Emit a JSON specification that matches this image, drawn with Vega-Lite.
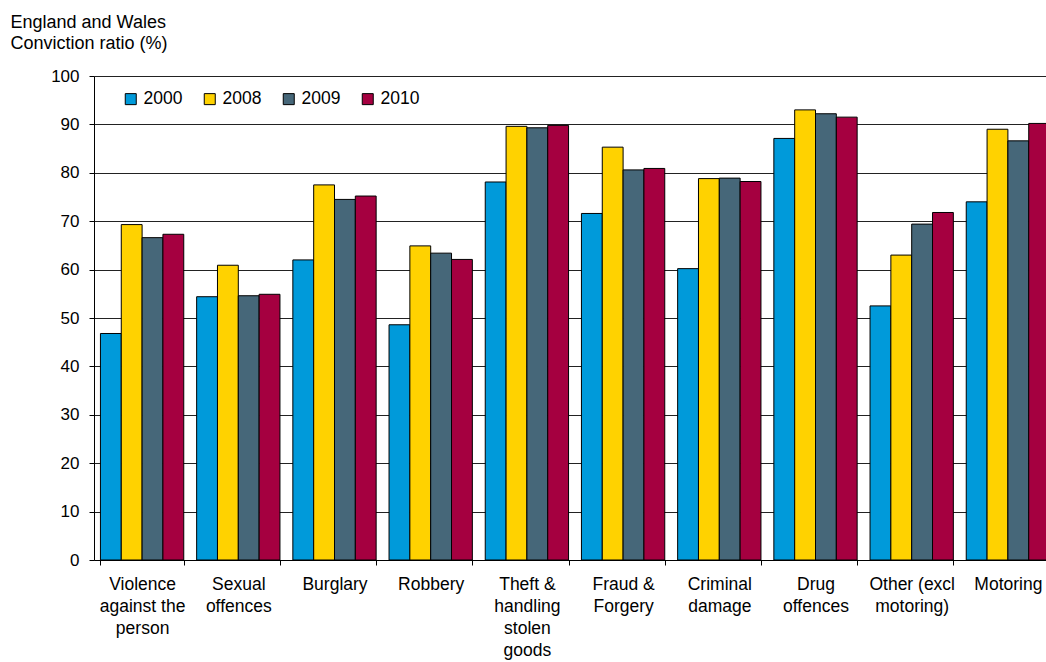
{
  "$schema": "https://vega.github.io/schema/vega-lite/v6.json",
  "autosize": "none",
  "width": 952,
  "height": 484,
  "padding": {"left": 94, "top": 76, "right": 0, "bottom": 102},
  "background": "white",
  "config": {
    "font": "Liberation Sans",
    "view": {"stroke": null},
    "axis": {"labelColor": "black", "titleColor": "black", "labelFontSize": 17, "domainColor": "black", "tickColor": "black"}
  },
  "data": {
    "values": [
      {"cat": "Violence|against the|person", "year": "2000", "v": 46.8},
      {"cat": "Violence|against the|person", "year": "2008", "v": 69.3},
      {"cat": "Violence|against the|person", "year": "2009", "v": 66.6},
      {"cat": "Violence|against the|person", "year": "2010", "v": 67.3},
      {"cat": "Sexual|offences", "year": "2000", "v": 54.4},
      {"cat": "Sexual|offences", "year": "2008", "v": 60.9},
      {"cat": "Sexual|offences", "year": "2009", "v": 54.6},
      {"cat": "Sexual|offences", "year": "2010", "v": 54.9},
      {"cat": "Burglary", "year": "2000", "v": 62.0},
      {"cat": "Burglary", "year": "2008", "v": 77.5},
      {"cat": "Burglary", "year": "2009", "v": 74.5},
      {"cat": "Burglary", "year": "2010", "v": 75.2},
      {"cat": "Robbery", "year": "2000", "v": 48.6},
      {"cat": "Robbery", "year": "2008", "v": 64.9},
      {"cat": "Robbery", "year": "2009", "v": 63.4},
      {"cat": "Robbery", "year": "2010", "v": 62.1},
      {"cat": "Theft &|handling|stolen|goods", "year": "2000", "v": 78.1},
      {"cat": "Theft &|handling|stolen|goods", "year": "2008", "v": 89.6},
      {"cat": "Theft &|handling|stolen|goods", "year": "2009", "v": 89.3},
      {"cat": "Theft &|handling|stolen|goods", "year": "2010", "v": 89.8},
      {"cat": "Fraud &|Forgery", "year": "2000", "v": 71.6},
      {"cat": "Fraud &|Forgery", "year": "2008", "v": 85.3},
      {"cat": "Fraud &|Forgery", "year": "2009", "v": 80.6},
      {"cat": "Fraud &|Forgery", "year": "2010", "v": 80.9},
      {"cat": "Criminal|damage", "year": "2000", "v": 60.2},
      {"cat": "Criminal|damage", "year": "2008", "v": 78.8},
      {"cat": "Criminal|damage", "year": "2009", "v": 78.9},
      {"cat": "Criminal|damage", "year": "2010", "v": 78.2},
      {"cat": "Drug|offences", "year": "2000", "v": 87.1},
      {"cat": "Drug|offences", "year": "2008", "v": 93.0},
      {"cat": "Drug|offences", "year": "2009", "v": 92.2},
      {"cat": "Drug|offences", "year": "2010", "v": 91.5},
      {"cat": "Other (excl|motoring)", "year": "2000", "v": 52.5},
      {"cat": "Other (excl|motoring)", "year": "2008", "v": 63.0},
      {"cat": "Other (excl|motoring)", "year": "2009", "v": 69.4},
      {"cat": "Other (excl|motoring)", "year": "2010", "v": 71.8},
      {"cat": "Motoring", "year": "2000", "v": 74.0},
      {"cat": "Motoring", "year": "2008", "v": 89.0},
      {"cat": "Motoring", "year": "2009", "v": 86.6},
      {"cat": "Motoring", "year": "2010", "v": 90.2}
    ]
  },
  "mark": {"type": "bar", "stroke": "black", "strokeWidth": 1},
  "encoding": {
    "x": {
      "field": "cat",
      "type": "nominal",
      "sort": null,
      "scale": {"range": [0, 962], "paddingInner": 0.134, "paddingOuter": 0.067},
      "axis": {
        "title": null,
        "labelAngle": 0,
        "labelExpr": "split(datum.label, '|')",
        "labelFontSize": 17.5,
        "labelLineHeight": 22,
        "labelBaseline": "top",
        "labelPadding": 10,
        "labelLimit": 0,
        "tickBand": "extent",
        "tickSize": 5,
        "domainWidth": 1
      }
    },
    "xOffset": {"field": "year", "type": "nominal", "scale": {"paddingInner": 0, "paddingOuter": 0}},
    "y": {
      "field": "v",
      "type": "quantitative",
      "scale": {"domain": [0, 100], "nice": false},
      "axis": {
        "values": [0, 10, 20, 30, 40, 50, 60, 70, 80, 90, 100],
        "grid": true,
        "gridColor": "#222222",
        "gridWidth": 1,
        "gridOpacity": 1,
        "tickSize": 5,
        "labelPadding": 10,
        "title": ["England and Wales", "Conviction ratio (%)"],
        "titleAngle": 0,
        "titleAlign": "left",
        "titleBaseline": "alphabetic",
        "titleX": -84,
        "titleY": -49,
        "titleFontSize": 18,
        "titleFontWeight": "normal",
        "titleLineHeight": 21
      }
    },
    "color": {
      "field": "year",
      "type": "nominal",
      "scale": {"domain": ["2000", "2008", "2009", "2010"], "range": ["#009ada", "#ffd200", "#466779", "#a50040"]},
      "legend": {
        "title": null,
        "orient": "none",
        "legendX": 28,
        "legendY": 14,
        "direction": "horizontal",
        "columns": 4,
        "columnPadding": 18,
        "symbolType": "square",
        "symbolSize": 121,
        "symbolStrokeColor": "black",
        "symbolStrokeWidth": 1,
        "symbolOpacity": 1,
        "labelFontSize": 17.5,
        "labelColor": "black",
        "labelOffset": 4
      }
    }
  }
}
